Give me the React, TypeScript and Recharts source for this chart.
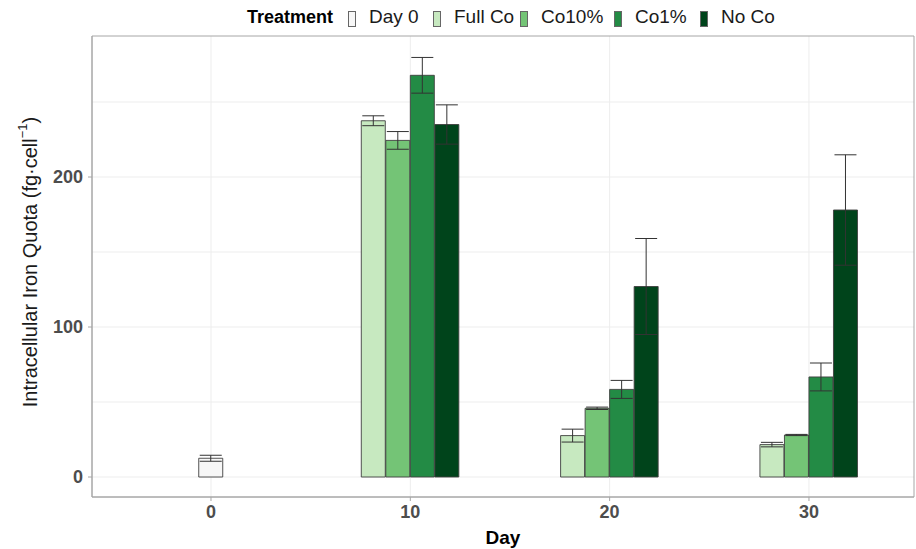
import React from 'react'
import {
  ComposedChart,
  Bar,
  Cell,
  ErrorBar,
  XAxis,
  YAxis,
  CartesianGrid,
  ReferenceArea
} from 'recharts'

const treatments = ['Day 0', 'Full Co', 'Co10%', 'Co1%', 'No Co']
const colors = ['#f7f7f7', '#c7e9c0', '#74c476', '#238b45', '#00441b']

const day0Mean = [12.5]
const day0Err = [2]

const days = [10, 20, 30]
const fullCoMean = [237.5, 27.6, 21.6]
const fullCoErr = [3.3, 4.3, 1.5]
const co10Mean = [224.4, 45.8, 28.0]
const co10Err = [5.9, 0.8, 0.4]
const co1Mean = [267.8, 58.4, 66.7]
const co1Err = [11.9, 6.0, 9.3]
const noCoMean = [235.0, 127.0, 178.0]
const noCoErr = [13.1, 32.0, 36.8]

const xTicks = [0, 10, 20, 30]
const yTicks = [0, 100, 200]
const yGrid = [0, 50, 100, 150, 200, 250]

const FONT = '"Liberation Sans", Arial, sans-serif'
const DODGE = 1.23
const X_DOMAIN: [number, number] = [-5.97, 35.27]
const Y_DOMAIN: [number, number] = [-13.33, 294]

// one row per bar, dodged around its day
const series = [
  { mean: fullCoMean, err: fullCoErr },
  { mean: co10Mean, err: co10Err },
  { mean: co1Mean, err: co1Err },
  { mean: noCoMean, err: noCoErr }
]

const rows = [
  { x: 0, mean: day0Mean[0], err: day0Err[0], t: 0 },
  ...days.flatMap((d, di) =>
    series.map((s, si) => ({
      x: d + (si - 1.5) * DODGE,
      mean: s.mean[di],
      err: s.err[di],
      t: si + 1
    }))
  )
]

const legendX = [348, 433, 520, 614, 700]

function YLabel() {
  return (
    <text
      x={30}
      y={262}
      transform="rotate(-90 30 262)"
      textAnchor="middle"
      dominantBaseline="central"
      fontFamily={FONT}
      fontSize={20}
      fill="#1a1a1a"
    >
      Intracellular Iron Quota (fg·cell
      <tspan dy={-8} fontSize={13}>−1</tspan>
      <tspan dy={8}>)</tspan>
    </text>
  )
}

export default function App() {
  return (
    <div style={{ position: 'absolute', left: 0, top: 0, width: 916, height: 549, background: '#fff' }}>
      <div style={{ position: 'absolute', left: 0, top: 0, width: 916, height: 36, fontFamily: FONT, color: '#1a1a1a' }}>
        <span style={{ position: 'absolute', left: 247, top: 7, fontSize: 18, fontWeight: 'bold', color: '#000' }}>Treatment</span>
        {treatments.map((t, i) => (
          <React.Fragment key={t}>
            <span
              style={{
                position: 'absolute',
                left: legendX[i],
                top: 11,
                width: 6,
                height: 14,
                background: colors[i],
                border: '0.5px solid #666'
              }}
            />
            <span style={{ position: 'absolute', left: legendX[i] + 21, top: 6, fontSize: 19 }}>{t}</span>
          </React.Fragment>
        ))}
      </div>
      <ComposedChart
        width={916}
        height={549}
        data={rows}
        margin={{ top: 36, right: 2, bottom: 0, left: 0 }}
        style={{ position: 'absolute', left: 0, top: 0 }}
      >
        <CartesianGrid
          stroke="#ededed"
          strokeWidth={1}
          horizontalValues={yGrid}
          verticalValues={xTicks}
        />
        <XAxis
          type="number"
          dataKey="x"
          domain={X_DOMAIN}
          ticks={xTicks}
          allowDataOverflow
          height={52}
          stroke="#a6a6a6"
          tickSize={4}
          tickMargin={4}
          tick={{ fontFamily: FONT, fontSize: 18, fontWeight: 'bold', fill: '#4d4d4d' }}
          label={{
            value: 'Day',
            position: 'insideBottom',
            offset: 5,
            style: { fontFamily: FONT, fontSize: 19, fontWeight: 'bold', fill: '#000' }
          }}
        />
        <YAxis
          type="number"
          domain={Y_DOMAIN}
          ticks={yTicks}
          allowDataOverflow
          width={92}
          stroke="#a6a6a6"
          tickSize={4}
          tickMargin={5}
          tick={{ fontFamily: FONT, fontSize: 18, fontWeight: 'bold', fill: '#4d4d4d' }}
          label={{ content: () => <YLabel /> }}
        />
        <ReferenceArea
          x1={X_DOMAIN[0]}
          x2={X_DOMAIN[1]}
          y1={Y_DOMAIN[0]}
          y2={Y_DOMAIN[1]}
          fill="none"
          stroke="#a6a6a6"
          strokeWidth={1}
        />
        <Bar dataKey="mean" barSize={24} stroke="#404040" strokeWidth={0.9} isAnimationActive={false}>
          {rows.map((r, i) => (
            <Cell key={i} fill={colors[r.t]} />
          ))}
          <ErrorBar dataKey="err" width={11} stroke="#333" strokeWidth={1} isAnimationActive={false} />
        </Bar>
      </ComposedChart>
    </div>
  )
}
